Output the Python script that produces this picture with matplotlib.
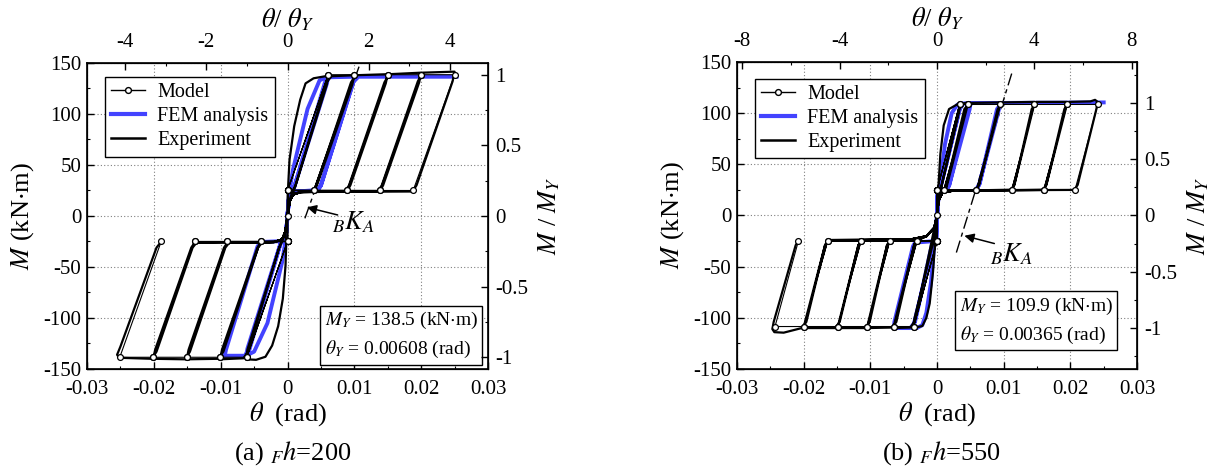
import matplotlib.pyplot as plt
from matplotlib.lines import Line2D
from matplotlib.ticker import MultipleLocator

plt.rcParams['font.family'] = ['Liberation Serif', 'DejaVu Serif']
plt.rcParams['mathtext.fontset'] = 'stix'
plt.rcParams['axes.unicode_minus'] = False

# ---------------- (a) Fh=200 ----------------
MY_a = 138.5
thY_a = 0.00608

model_a_theta = [0, 0, 0.0061, 0, 0, -0.0061, 0, 0,
                 0.0061, 0.0100, 0.0039, 0, 0, -0.0061, -0.0101, -0.0040, 0, 0,
                 0.0039, 0.0100, 0.0150, 0.0089, 0, 0, -0.0040, -0.0101, -0.0151, -0.0090, 0, 0,
                 0.0089, 0.0150, 0.0200, 0.0138, 0, 0, -0.0090, -0.0151, -0.0201, -0.0139, 0, 0,
                 0.0138, 0.0200, 0.0250, 0.0188, 0, 0, -0.0139, -0.0201, -0.0251, -0.0189]
model_a_M = [0, 25, 138.5, 25, -25, -138.5, -25, 25,
             138.5, 138.5, 25, 25, -25, -138.5, -138.5, -25, -25, 25,
             25, 138.5, 138.5, 25, 25, -25, -25, -138.5, -138.5, -25, -25, 25,
             25, 138.5, 138.5, 25, 25, -25, -25, -138.5, -138.5, -25, -25, 25,
             25, 138.5, 138.5, 25, 25, -25, -25, -138.5, -138.5, -25]

exp_a_theta = [0, 0.0001, 0.0001, 0.0003, 0.0010, 0.0019, 0.0027, 0.0039, 0.0061,
               0.0059, 0.0012, 0.0007, 0.0003, 0, -0.0003, -0.0002, -0.0003, -0.0007, -0.0014, -0.0023, -0.0033, -0.0047, -0.0062,
               -0.0060, -0.0013, -0.0008, -0.0003, 0, 0.0003, 0.0008, 0.0012, 0.0058, 0.0066, 0.0100,
               0.0097, 0.0044, 0.0039, 0.0020, 0.0008, 0.0003, 0, -0.0003, -0.0008, -0.0013, -0.0058, -0.0066, -0.0101,
               -0.0098, -0.0045, -0.0040, -0.0020, -0.0008, -0.0003, 0, 0.0003, 0.0008, 0.0020, 0.0037, 0.0043, 0.0095, 0.0102, 0.0150,
               0.0147, 0.0094, 0.0089, 0.0020, 0.0008, 0.0003, 0, -0.0003, -0.0008, -0.0020, -0.0038, -0.0044, -0.0096, -0.0103, -0.0151,
               -0.0148, -0.0095, -0.0090, -0.0020, -0.0008, -0.0003, 0, 0.0003, 0.0008, 0.0020, 0.0086, 0.0092, 0.0145, 0.0152, 0.0200,
               0.0197, 0.0143, 0.0138, 0.0020, 0.0008, 0.0003, 0, -0.0003, -0.0008, -0.0020, -0.0087, -0.0093, -0.0146, -0.0153, -0.0201,
               -0.0198, -0.0144, -0.0139, -0.0020, -0.0008, -0.0003, 0, 0.0003, 0.0008, 0.0020, 0.0135, 0.0141, 0.0195, 0.0202, 0.0250,
               0.0247, 0.0193, 0.0187, 0.0020, 0.0008, 0.0003, 0, -0.0003, -0.0008, -0.0020, -0.0136, -0.0142, -0.0196, -0.0203, -0.0252, -0.0255, -0.0250, -0.0196, -0.0190]
exp_a_M = [0, 20, 30, 55, 88, 114, 130, 135, 137.5,
           129, 30, 24, 14, 0, -15, -29, -49, -81, -108, -127, -138, -141, -140.5,
           -131, -32, -25, -15, 0, 14, 22, 30, 131, 137, 138,
           129, 30, 24, 23.5, 21, 14, 0, -15, -23, -32, -132, -139.5, -140.5,
           -131, -31, -25.5, -25.5, -23, -15, 0, 14, 21, 23.5, 24, 30, 131, 138, 139,
           130, 30, 24, 23.5, 21, 14, 0, -15, -23, -25.5, -26, -31, -133, -140, -140.5,
           -131, -31, -26, -25.5, -23, -15, 0, 14, 21, 23.5, 24, 30, 131, 139, 140.5,
           131, 30, 24, 23.5, 21, 14, 0, -15, -23, -25.5, -26, -31, -133, -140.5, -140,
           -131, -31, -26, -25.5, -23, -15, 0, 14, 21, 23.5, 24, 30, 132, 140.5, 141.5,
           132, 30, 24, 23.5, 21, 14, 0, -15, -23, -25.5, -26, -31, -133, -140, -139, -136, -128, -31, -26]

fem_a_theta = [0, 0.0002, 0.0008, 0.0030, 0.0048, 0.0061,
               0.0059, 0.0009, 0.0003, 0, -0.0003, -0.0008, -0.0030, -0.0050, -0.0062,
               -0.0060, -0.0010, -0.0003, 0, 0.0003, 0.0009, 0.0056, 0.0063, 0.0100,
               0.0098, 0.0050, 0.0045, 0.0003, 0, -0.0003, -0.0010, -0.0057, -0.0064, -0.0094,
               -0.0092, -0.0045, -0.0040, -0.0003, 0, 0.0003, 0.0045, 0.0050, 0.0098, 0.0106, 0.0253]
fem_a_M = [0, 20, 45, 105, 133, 136.5,
           130, 26, 24, 0, -24, -45, -105, -133, -137,
           -130, -26, -24.5, 0, 24, 26, 131, 136, 136.5,
           130, 30, 25, 24, 0, -24.5, -26, -131, -137, -137,
           -131, -30, -25.5, -24.5, 0, 24, 25, 30, 131, 136.5, 136.5]

bka_a_theta = [0.0026, 0.0107]
bka_a_M = [-2.3, 146.4]
arrow_a = [(0.0075, 1.0), (0.0029, 8.5)]   # tail, head
label_a = (0.0067, -6.4)

# ---------------- (b) Fh=550 ----------------
MY_b = 109.9
thY_b = 0.00365

model_b_theta = [0, 0, 0.0034, 0, 0, -0.0035, 0, 0,
                 0.0034, 0.0046, 0.0010, 0, 0, -0.0035, -0.0065, -0.0030, 0, 0,
                 0.0010, 0.0046, 0.0095, 0.0059, 0, 0, -0.0030, -0.0065, -0.0105, -0.0071, 0, 0,
                 0.0059, 0.0095, 0.0146, 0.0112, 0, 0, -0.0071, -0.0105, -0.0149, -0.0114, 0, 0,
                 0.0112, 0.0146, 0.0195, 0.0160, 0, 0, -0.0114, -0.0149, -0.0200, -0.0164, 0, 0,
                 0.0160, 0.0195, 0.0241, 0.0207, 0, 0, -0.0164, -0.0200, -0.0243, -0.0208]
model_b_M = [0, 25, 108.5, 25, -25, -108.5, -25, 25,
             108.5, 108.5, 25, 25, -25, -108.5, -108.5, -25, -25, 25,
             25, 108.5, 108.5, 25, 25, -25, -25, -108.5, -108.5, -25, -25, 25,
             25, 108.5, 108.5, 25, 25, -25, -25, -108.5, -108.5, -25, -25, 25,
             25, 108.5, 108.5, 25, 25, -25, -25, -108.5, -108.5, -25, -25, 25,
             25, 108.5, 108.5, 25, 25, -25, -25, -108.5, -108.5, -25]

exp_b_theta = [0, 0.0001, 0.0002, 0.0005, 0.0010, 0.0018, 0.0030, 0.0035,
               0.0033, 0.0006, 0.0002, 0, -0.0002, -0.0003, -0.0006, -0.0011, -0.0016, -0.0022, -0.0036,
               -0.0034, -0.0006, -0.0002, 0, 0.0002, 0.0006, 0.0033, 0.0040, 0.0046,
               0.0044, 0.0014, 0.0010, 0.0008, 0.0002, 0, -0.0004, -0.0008, -0.0033, -0.0040, -0.0065,
               -0.0063, -0.0034, -0.0029, -0.0016, -0.0004, 0, 0.0002, 0.0008, 0.0013, 0.0041, 0.0049, 0.0095,
               0.0093, 0.0063, 0.0058, 0.0026, 0.0008, 0.0002, 0, -0.0004, -0.0016, -0.0029, -0.0034, -0.0061, -0.0068, -0.0105,
               -0.0103, -0.0075, -0.0070, -0.0040, -0.0016, -0.0004, 0, 0.0002, 0.0008, 0.0026, 0.0058, 0.0063, 0.0091, 0.0098, 0.0146,
               0.0144, 0.0116, 0.0111, 0.0026, 0.0008, 0.0002, 0, -0.0004, -0.0016, -0.0040, -0.0070, -0.0075, -0.0101, -0.0108, -0.0149,
               -0.0147, -0.0118, -0.0113, -0.0040, -0.0016, -0.0004, 0, 0.0002, 0.0008, 0.0026, 0.0111, 0.0116, 0.0142, 0.0149, 0.0195,
               0.0193, 0.0164, 0.0159, 0.0026, 0.0008, 0.0002, 0, -0.0004, -0.0016, -0.0040, -0.0113, -0.0118, -0.0146, -0.0153, -0.0200,
               -0.0198, -0.0168, -0.0163, -0.0040, -0.0016, -0.0004, 0, 0.0002, 0.0008, 0.0026, 0.0159, 0.0164, 0.0191, 0.0198, 0.0230, 0.0237, 0.0241,
               0.0239, 0.0211, 0.0206, 0.0026, 0.0008, 0.0002, 0, -0.0004, -0.0016, -0.0040, -0.0163, -0.0168, -0.0196, -0.0203, -0.0215, -0.0230, -0.0244, -0.0247, -0.0245, -0.0212, -0.0207]
exp_b_M = [0, 15, 27, 60, 88, 104, 108.5, 110,
           101, 27, 14, 0, -14, -27, -55, -86, -100, -108, -110,
           -101, -27, -14, 0, 14, 27, 104, 109.5, 110.5,
           103, 27, 24, 22.5, 14, 0, -12, -25, -103, -109.5, -110,
           -103, -28, -24, -20.3, -12, 0, 14, 22.5, 27, 104, 110, 110.5,
           104, 30, 24.5, 24.5, 22.5, 14, 0, -12, -20.3, -24, -28, -104, -109.5, -110,
           -104, -29, -24, -23.5, -20.3, -12, 0, 14, 22.5, 24.5, 24.5, 30, 104, 110.5, 111,
           104, 30, 25, 24.5, 22.5, 14, 0, -12, -20.3, -23.5, -24, -29, -104, -110, -110,
           -104, -29, -24, -23.5, -20.3, -12, 0, 14, 22.5, 24.5, 25, 30, 104, 111, 111,
           104, 30, 25, 24.5, 22.5, 14, 0, -12, -20.3, -23.5, -24, -29, -104, -110, -110,
           -104, -29, -24, -23.5, -20.3, -12, 0, 14, 22.5, 24.5, 25, 30, 104, 111, 111.5, 113, 111,
           104, 30, 25, 24.5, 22.5, 14, 0, -12, -20.3, -23.5, -24, -29, -104, -110, -112, -114.5, -114, -111, -104, -29, -24]

fem_b_theta = [0, 0.0001, 0.0004, 0.0012, 0.0022, 0.0030, 0.0036,
               0.0034, 0.0005, 0.0001, 0, -0.0001, -0.0004, -0.0009, -0.0016, -0.0022, -0.0030, -0.0036,
               -0.0034, -0.0005, -0.0001, 0, 0.0001, 0.0005, 0.0034, 0.0040, 0.0050,
               0.0049, 0.0018, 0.0014, 0.0003, 0, -0.0003, -0.0007, -0.0033, -0.0040, -0.0065,
               -0.0064, -0.0036, -0.0033, -0.0003, 0, 0.0003, 0.0014, 0.0018, 0.0046, 0.0052, 0.0095,
               0.0093, 0.0063, 0.0059, 0.0064, 0.0090, 0.0097, 0.0250]
fem_b_M = [0, 20, 27, 70, 100, 108, 110,
           104, 27, 22, 0, -22, -27, -65, -95, -107, -110, -110,
           -104, -27, -22, 0, 22, 27, 104, 109.5, 110,
           104, 29, 25.5, 25, 0, -25, -26, -104, -110, -110,
           -104, -30, -26.5, -25, 0, 25, 25.5, 29, 104, 110, 110,
           104, 30, 25.5, 31, 104, 110, 110.5]

bka_b_theta = [0.0029, 0.0112]
bka_b_M = [-36.2, 138.7]
arrow_b = [(0.0086, -27.4), (0.0041, -19.8)]
label_b = (0.0080, -38.1)

# ---------------- ticks ----------------
x_ticks = [-0.03, -0.02, -0.01, 0, 0.01, 0.02, 0.03]
x_ticklabels = ['-0.03', '-0.02', '-0.01', '0', '0.01', '0.02', '0.03']
y_ticks = [-150, -100, -50, 0, 50, 100, 150]
y_ticklabels = ['-150', '-100', '-50', '0', '50', '100', '150']
r_ticks = [-1, -0.5, 0, 0.5, 1]
r_ticklabels = ['-1', '-0.5', '0', '0.5', '1']
top_ticks_a = [-4, -2, 0, 2, 4]
top_ticks_b = [-8, -4, 0, 4, 8]

blue = '#4343ff'
tick_fs = 15
label_fs = 19

fig = plt.figure(figsize=(12.17, 4.70), dpi=100)


def draw_panel(rect, mth, mM, eth, eM, fth, fM, MY, thY, top_ticks, top_minor,
               bka_th, bka_M, arrow, label_pos, box_text, box_xy, leg_xy, caption):
    ax = fig.add_axes(rect)
    ax.set_xlim(-0.03, 0.03)
    ax.set_ylim(-150, 150)
    ax.set_xticks(x_ticks)
    ax.set_xticklabels(x_ticklabels)
    ax.set_yticks(y_ticks)
    ax.set_yticklabels(y_ticklabels)
    ax.xaxis.set_minor_locator(MultipleLocator(0.005))
    ax.yaxis.set_minor_locator(MultipleLocator(25))
    ax.grid(True, which='major', linestyle=(0, (1, 2)), color='0.5', lw=0.8)
    ax.set_axisbelow(True)
    ax.tick_params(which='both', direction='in', top=False, right=False, labelsize=tick_fs)
    ax.tick_params(which='major', length=5, width=1)
    ax.tick_params(which='minor', length=2.5, width=0.8)
    ax.tick_params(axis='x', pad=8)
    ax.tick_params(axis='y', pad=4)
    for s in ax.spines.values():
        s.set_linewidth(1.2)

    ax.plot(bka_th, bka_M, color='k', lw=1, linestyle=(0, (9, 3, 3, 3)), zorder=1.5)
    ax.plot(fth, fM, color=blue, lw=2.8, zorder=2, solid_joinstyle='round')
    ax.plot(eth, eM, color='k', lw=1.6, zorder=3, solid_joinstyle='round')
    ax.plot(mth, mM, color='k', lw=0.8, marker='o', ms=4.2, mfc='white', mec='k',
            mew=0.9, zorder=4)

    ax.annotate('', xy=arrow[1], xytext=arrow[0],
                arrowprops=dict(arrowstyle='-|>', color='k', lw=1.1,
                                shrinkA=0, shrinkB=0, mutation_scale=14), zorder=5)
    ax.text(label_pos[0], label_pos[1], r'${}_{B}K_{A}$', fontsize=19,
            ha='left', va='center', zorder=5)

    ax.text(box_xy[0], box_xy[1], box_text, transform=ax.transAxes, ha='right',
            va='bottom', multialignment='left', fontsize=14, linespacing=1.55, zorder=6,
            bbox=dict(boxstyle='square,pad=0.22', fc='white', ec='k', lw=1))

    handles = [Line2D([], [], color='k', lw=1, marker='o', ms=4.2, mfc='white', mec='k'),
               Line2D([], [], color=blue, lw=3),
               Line2D([], [], color='k', lw=1.8)]
    leg = ax.legend(handles, ['Model', 'FEM analysis', 'Experiment'], loc='upper left',
                    bbox_to_anchor=leg_xy, fontsize=14.5, frameon=True, fancybox=False,
                    edgecolor='k', framealpha=1, numpoints=1, handlelength=1.7,
                    handletextpad=0.6, labelspacing=0.25, borderpad=0.3,
                    borderaxespad=0)
    leg.get_frame().set_linewidth(1)
    leg.set_zorder(6)

    ax.set_xlabel(r'$\theta$  (rad)', fontsize=label_fs, labelpad=1)
    ax.set_ylabel(r'$M$ (kN$\cdot$m)', fontsize=label_fs, labelpad=5)

    axt = ax.twiny()
    axt.set_xlim(-0.03 / thY, 0.03 / thY)
    axt.set_xticks(top_ticks)
    axt.set_xticklabels([str(t) for t in top_ticks])
    axt.xaxis.set_minor_locator(MultipleLocator(top_minor))
    axt.tick_params(which='both', direction='in', labelsize=tick_fs, pad=8)
    axt.tick_params(which='major', length=5, width=1)
    axt.tick_params(which='minor', length=2.5, width=0.8)
    axt.set_xlabel(r'$\theta$/ $\theta_Y$', fontsize=label_fs, labelpad=4)

    axr = ax.twinx()
    axr.set_ylim(-150 / MY, 150 / MY)
    axr.set_yticks(r_ticks)
    axr.set_yticklabels(r_ticklabels)
    axr.yaxis.set_minor_locator(MultipleLocator(0.25))
    axr.tick_params(which='both', direction='in', labelsize=tick_fs, pad=5)
    axr.tick_params(which='major', length=5, width=1)
    axr.tick_params(which='minor', length=2.5, width=0.8)
    axr.set_ylabel(r'$M$ / $M_Y$', fontsize=label_fs, labelpad=6)

    cx = rect[0] + rect[2] / 2
    fig.text(cx + 0.004, 0.036, caption, ha='center', va='center', fontsize=label_fs)
    return ax


draw_panel([0.0715, 0.2149, 0.3295, 0.6511], model_a_theta, model_a_M,
           exp_a_theta, exp_a_M, fem_a_theta, fem_a_M, MY_a, thY_a,
           top_ticks_a, 1, bka_a_theta, bka_a_M, arrow_a, label_a,
           r'$M_Y$ = 138.5 (kN$\cdot$m)' + '\n' + r'$\theta_Y$ = 0.00608 (rad)',
           (0.975, 0.028), (0.045, 0.954), r'(a) ${}_{F}h$=200')

draw_panel([0.6056, 0.2149, 0.3287, 0.6532], model_b_theta, model_b_M,
           exp_b_theta, exp_b_M, fem_b_theta, fem_b_M, MY_b, thY_b,
           top_ticks_b, 2, bka_b_theta, bka_b_M, arrow_b, label_b,
           r'$M_Y$ = 109.9 (kN$\cdot$m)' + '\n' + r'$\theta_Y$ = 0.00365 (rad)',
           (0.94, 0.075), (0.045, 0.945), r'(b) ${}_{F}h$=550')

fig.savefig('out.png', dpi=100)
